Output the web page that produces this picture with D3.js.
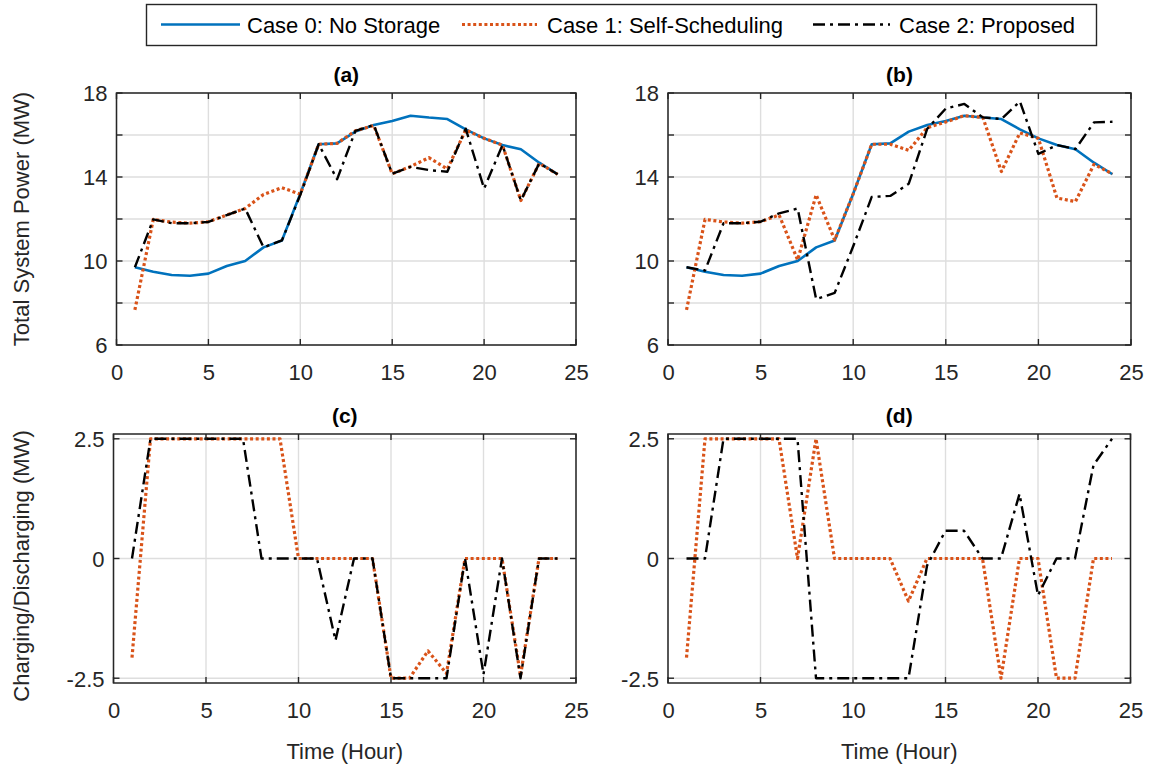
<!DOCTYPE html>
<html>
<head>
<meta charset="utf-8">
<script src="https://cdn.jsdelivr.net/npm/d3@7"></script>
<style>
  html, body { margin: 0; padding: 0; background: #fff; }
  svg { display: block; font-family: "Liberation Sans", Arial, Helvetica, sans-serif; }
</style>
</head>
<body>
<svg id="chart" width="1149" height="771"></svg>
<script>
// ---------------- data ----------------
const hours = [1,2,3,4,5,6,7,8,9,10,11,12,13,14,15,16,17,18,19,20,21,22,23,24];

const case0Power = [9.7,9.49,9.33,9.3,9.4,9.76,10.0,10.65,10.98,13.2,15.56,15.6,16.16,16.48,16.67,16.92,16.83,16.76,16.27,15.84,15.52,15.32,14.68,14.13];

const case1PowerA = [7.67,11.98,11.85,11.8,11.87,12.19,12.5,13.17,13.49,13.18,15.56,15.6,16.2,16.45,14.15,14.5,14.92,14.38,16.24,15.84,15.52,12.88,14.65,14.13];
const case2PowerA = [9.7,11.98,11.8,11.8,11.86,12.19,12.5,10.65,10.98,13.15,15.56,13.89,16.2,16.48,14.15,14.48,14.33,14.25,16.3,13.45,15.52,12.88,14.65,14.13];

const case1PowerB = [7.67,11.98,11.86,11.8,11.87,12.19,10.05,13.15,11.0,13.2,15.56,15.56,15.27,16.35,16.62,16.92,16.84,14.26,16.1,15.84,13.0,12.83,14.6,14.15];
const case2PowerB = [9.7,9.55,11.8,11.8,11.87,12.27,12.5,8.18,8.48,10.7,13.05,13.1,13.68,16.3,17.26,17.48,16.84,16.76,17.6,15.1,15.52,15.33,16.6,16.63];

const case1ChargeC = [-2.07,2.5,2.5,2.5,2.5,2.5,2.5,2.5,2.5,0,0,0,0,0,-2.5,-2.5,-1.93,-2.4,0,0,0,-2.45,0,0];
const case2ChargeC = [0,2.5,2.5,2.5,2.5,2.5,2.5,0,0,0,0,-1.71,0,0,-2.5,-2.5,-2.5,-2.5,0,-2.42,0,-2.5,0,0];

const case1ChargeD = [-2.07,2.5,2.5,2.5,2.5,2.5,0,2.5,0,0,0,0,-0.89,0,0,0,0,-2.5,0,0,-2.5,-2.5,0,0];
const case2ChargeD = [0,0,2.5,2.5,2.5,2.5,2.5,-2.5,-2.5,-2.5,-2.5,-2.5,-2.5,-0.15,0.58,0.58,0,0,1.35,-0.77,0,0,1.95,2.5];

const xTicks = [0,5,10,15,20,25];
const yTicksPower = [6,8,10,12,14,16,18];
const yLabelsPower = ["6","","10","","14","","18"];
const yTicksCharge = [-2.5,0,2.5];
const yLabelsCharge = ["-2.5","0","2.5"];

const seriesNames = ["Case 0: No Storage","Case 1: Self-Scheduling","Case 2: Proposed"];
const panelTitles = ["(a)","(b)","(c)","(d)"];

// ---------------- styles ----------------
const styles = [
  {color:"#0072BD", width:2.6, dash:null},
  {color:"#D95319", width:3.2, dash:"3,2.6"},
  {color:"#000000", width:2.4, dash:"12,5,3,5"}
];
const axisColor = "#262626";
const gridColor = "#dedede";
const fontSize = 22;

const svg = d3.select("#chart");
svg.append("rect").attr("width",1149).attr("height",771).attr("fill","#fff");

const panels = [
  {x0:116.5, x1:576, y0:93, y1:345, ydom:[6,18], yt:yTicksPower, yl:yLabelsPower,
   series:[[0,case0Power],[1,case1PowerA],[2,case2PowerA]], title:panelTitles[0]},
  {x0:668, x1:1131, y0:93, y1:345, ydom:[6,18], yt:yTicksPower, yl:yLabelsPower,
   series:[[0,case0Power],[1,case1PowerB],[2,case2PowerB]], title:panelTitles[1]},
  {x0:113.5, x1:576, y0:434, y1:683, ydom:[-2.6,2.6], yt:yTicksCharge, yl:yLabelsCharge,
   series:[[1,case1ChargeC],[2,case2ChargeC]], title:panelTitles[2]},
  {x0:668, x1:1130.5, y0:434, y1:683, ydom:[-2.6,2.6], yt:yTicksCharge, yl:yLabelsCharge,
   series:[[1,case1ChargeD],[2,case2ChargeD]], title:panelTitles[3]}
];

panels.forEach((p, i) => {
  const x = d3.scaleLinear().domain([0,25]).range([p.x0, p.x1]);
  const y = d3.scaleLinear().domain(p.ydom).range([p.y1, p.y0]);
  const g = svg.append("g");
  const clipId = "clip" + i;
  svg.append("clipPath").attr("id", clipId).append("rect")
    .attr("x", p.x0).attr("y", p.y0).attr("width", p.x1 - p.x0).attr("height", p.y1 - p.y0);

  // grid
  g.selectAll(".gx").data(xTicks).join("line")
    .attr("x1", d => x(d)).attr("x2", d => x(d)).attr("y1", p.y0).attr("y2", p.y1)
    .attr("stroke", gridColor).attr("stroke-width", 1.4);
  g.selectAll(".gy").data(p.yt).join("line").attr("class","gy")
    .attr("y1", d => y(d)).attr("y2", d => y(d)).attr("x1", p.x0).attr("x2", p.x1)
    .attr("stroke", gridColor).attr("stroke-width", 1.4);

  // axes via d3 axis (labels), ticks drawn inward
  const xAxis = d3.axisBottom(x).tickValues(xTicks).tickFormat(d3.format("d")).tickSize(0).tickPadding(0);
  const gx = g.append("g").attr("transform", `translate(0,${p.y1})`).call(xAxis);
  gx.select(".domain").remove();
  gx.selectAll("text").attr("y", 35).attr("dy", 0).attr("fill", axisColor)
    .attr("font-size", fontSize).attr("font-family", "Liberation Sans, Arial, sans-serif");

  const yAxis = d3.axisLeft(y).tickValues(p.yt).tickFormat((d, k) => p.yl[k]).tickSize(0).tickPadding(0);
  const gy = g.append("g").attr("transform", `translate(${p.x0},0)`).call(yAxis);
  gy.select(".domain").remove();
  gy.selectAll("text").attr("x", -9).attr("dy", "0.36em").attr("fill", axisColor)
    .attr("font-size", fontSize).attr("font-family", "Liberation Sans, Arial, sans-serif");

  // series
  const line = d3.line().x((d, k) => x(hours[k])).y(d => y(d));
  p.series.forEach(([si, vals]) => {
    const st = styles[si];
    g.append("path").datum(vals)
      .attr("d", line)
      .attr("fill", "none")
      .attr("stroke", st.color)
      .attr("stroke-width", st.width)
      .attr("stroke-dasharray", st.dash)
      .attr("stroke-linejoin", "round")
      .attr("clip-path", `url(#${clipId})`);
  });

  // inward tick marks on all four sides
  const tl = 6;
  xTicks.forEach(t => {
    g.append("line").attr("x1", x(t)).attr("x2", x(t)).attr("y1", p.y1).attr("y2", p.y1 - tl)
      .attr("stroke", axisColor).attr("stroke-width", 1.4);
    g.append("line").attr("x1", x(t)).attr("x2", x(t)).attr("y1", p.y0).attr("y2", p.y0 + tl)
      .attr("stroke", axisColor).attr("stroke-width", 1.4);
  });
  p.yt.forEach(t => {
    g.append("line").attr("x1", p.x0).attr("x2", p.x0 + tl).attr("y1", y(t)).attr("y2", y(t))
      .attr("stroke", axisColor).attr("stroke-width", 1.4);
    g.append("line").attr("x1", p.x1).attr("x2", p.x1 - tl).attr("y1", y(t)).attr("y2", y(t))
      .attr("stroke", axisColor).attr("stroke-width", 1.4);
  });

  // box
  g.append("rect").attr("x", p.x0).attr("y", p.y0).attr("width", p.x1 - p.x0).attr("height", p.y1 - p.y0)
    .attr("fill", "none").attr("stroke", axisColor).attr("stroke-width", 1.5);

  // title
  g.append("text").attr("x", (p.x0 + p.x1) / 2).attr("y", p.y0 - 11)
    .attr("text-anchor", "middle").attr("font-weight", "bold").attr("font-size", 21)
    .attr("fill", "#000").text(p.title);

  // x label for bottom row
  if (i >= 2) {
    g.append("text").attr("x", (p.x0 + p.x1) / 2).attr("y", 759)
      .attr("text-anchor", "middle").attr("font-size", fontSize).attr("fill", axisColor).text("Time (Hour)");
  }
});

// y labels
svg.append("text").attr("transform", "translate(29,219) rotate(-90)")
  .attr("text-anchor", "middle").attr("font-size", fontSize).attr("fill", axisColor)
  .text("Total System Power (MW)");
svg.append("text").attr("transform", "translate(29,566) rotate(-90)")
  .attr("text-anchor", "middle").attr("font-size", fontSize).attr("fill", axisColor)
  .text("Charging/Discharging (MW)");

// legend
const lg = svg.append("g");
lg.append("rect").attr("x", 146.5).attr("y", 4.5).attr("width", 950).attr("height", 41)
  .attr("fill", "#fff").attr("stroke", axisColor).attr("stroke-width", 1.4);
const legendItems = [
  {lx0:161, lx1:240, tx:247},
  {lx0:462, lx1:537, tx:547},
  {lx0:813, lx1:890, tx:899}
];
legendItems.forEach((it, k) => {
  const st = styles[k];
  lg.append("line").attr("x1", it.lx0).attr("x2", it.lx1).attr("y1", 24.5).attr("y2", 24.5)
    .attr("stroke", st.color).attr("stroke-width", st.width).attr("stroke-dasharray", st.dash);
  lg.append("text").attr("x", it.tx).attr("y", 32.5).attr("font-size", fontSize).attr("fill", "#000")
    .text(seriesNames[k]);
});
</script>
</body>
</html>
